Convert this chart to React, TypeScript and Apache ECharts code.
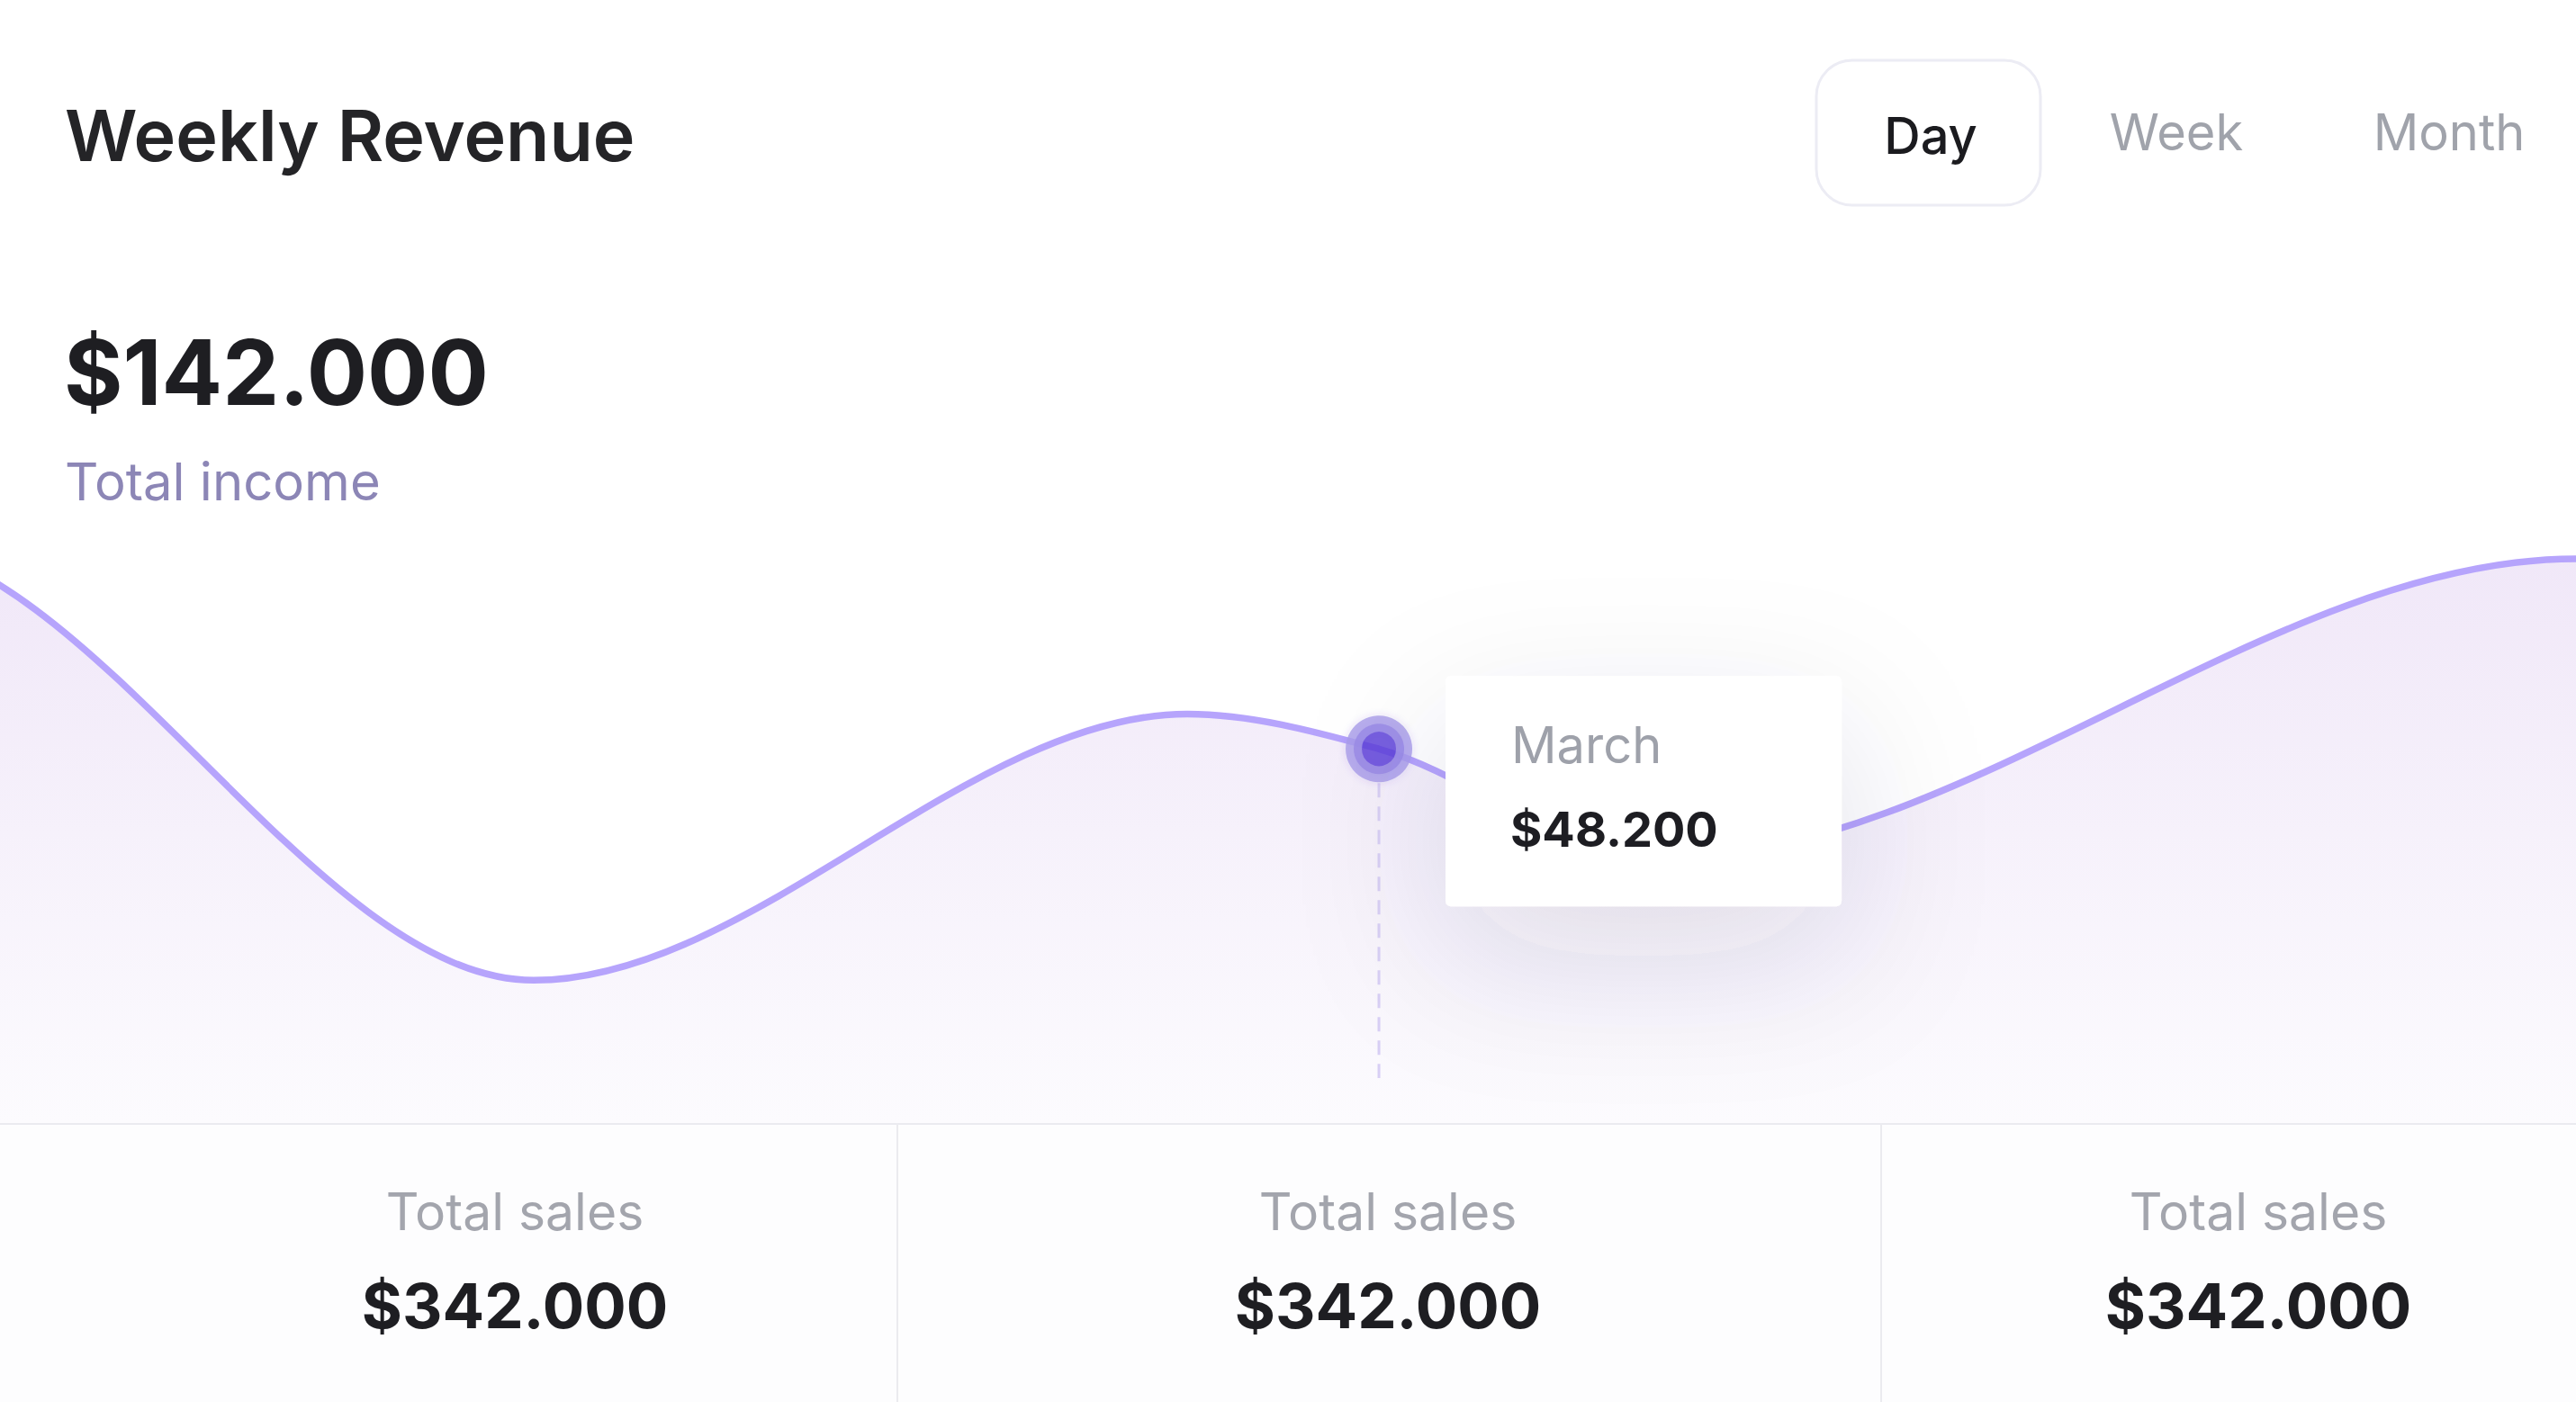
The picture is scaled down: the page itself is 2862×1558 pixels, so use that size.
import React, { useEffect, useRef } from "react";
import * as echarts from "echarts";

// ---- data ----
const title = "Weekly Revenue";
const periods = ["Day", "Week", "Month"];
const activePeriod = "Day";
const totalIncomeValue = 142000;
const totalIncomeLabel = "Total income";

// position along the period (0-100) and revenue in thousands of $ (turning points + highlighted point)
const revenueX = [-5.07, 20.72, 46.09, 53.53, 64.29, 100];
const revenueY = [75.0, 18.4, 52.7, 48.2, 33.9, 72.7];
const highlightIndex = 3;
const highlightLabel = "March";

const statLabels = ["Total sales", "Total sales", "Total sales"];
const statValues = [342000, 342000, 342000];

const FONT = "Inter, 'Noto Sans', sans-serif";

function money(v: number): string {
  const s = Math.round(v).toString();
  return "$" + s.replace(/\B(?=(\d{3})+(?!\d))/g, ".");
}

// monotone cubic (monotone-x) path through pixel points, flat at both ends
function monotonePath(p: number[][]): string {
  const n = p.length;
  const h: number[] = [];
  const s: number[] = [];
  for (let i = 0; i < n - 1; i++) {
    h[i] = p[i + 1][0] - p[i][0];
    s[i] = (p[i + 1][1] - p[i][1]) / h[i];
  }
  const t: number[] = new Array(n).fill(0);
  for (let i = 1; i < n - 1; i++) {
    const pp = (s[i - 1] * h[i] + s[i] * h[i - 1]) / (h[i - 1] + h[i]);
    t[i] =
      (Math.sign(s[i - 1]) + Math.sign(s[i])) *
        Math.min(Math.abs(s[i - 1]), Math.abs(s[i]), 0.5 * Math.abs(pp)) || 0;
  }
  let d = `M${p[0][0]},${p[0][1]}`;
  for (let i = 0; i < n - 1; i++) {
    const dx = h[i] / 3;
    d += ` C${p[i][0] + dx},${p[i][1] + dx * t[i]} ${p[i + 1][0] - dx},${p[i + 1][1] - dx * t[i + 1]} ${p[i + 1][0]},${p[i + 1][1]}`;
  }
  return d;
}

export default function App() {
  const ref = useRef<HTMLDivElement>(null);

  useEffect(() => {
    if (!ref.current) return;
    const chart = echarts.init(ref.current, null, { renderer: "svg" });
    const seriesData = revenueX.map((x, i) => [x, revenueY[i]]);
    const hx = revenueX[highlightIndex];
    const hy = revenueY[highlightIndex];

    chart.setOption({
      animation: false,
      backgroundColor: "#ffffff",
      grid: { left: 0, right: 0, top: 558, bottom: 310 },
      xAxis: {
        type: "value",
        min: 0,
        max: 100,
        axisLine: { show: true, lineStyle: { color: "#ebebf0", width: 4 } },
        axisTick: { show: false },
        axisLabel: { show: false },
        splitLine: { show: false },
      },
      yAxis: {
        type: "value",
        min: 0,
        max: 80,
        show: false,
        splitLine: { show: false },
      },
      series: [
        {
          type: "custom",
          data: seriesData,
          z: 2,
          renderItem: (params: any, api: any) => {
            if (params.dataIndex !== 0) return null;
            const n = seriesData.length;
            const pts: number[][] = [];
            for (let i = 0; i < n; i++) {
              pts.push(api.coord([api.value(0, i), api.value(1, i)]));
            }
            const d = monotonePath(pts);
            const base = api.coord([0, 0])[1];
            const area = `${d} L${pts[n - 1][0]},${base} L${pts[0][0]},${base} Z`;
            return {
              type: "group",
              children: [
                {
                  type: "path",
                  shape: { pathData: area },
                  style: {
                    fill: new echarts.graphic.LinearGradient(0, 0, 0, 1, [
                      { offset: 0, color: "#f0e7f8" },
                      { offset: 1, color: "#fcfbfe" },
                    ]),
                    stroke: null,
                  },
                },
                {
                  type: "path",
                  shape: { pathData: d },
                  style: { fill: null, stroke: "#b6a4fc", lineWidth: 7.5, lineCap: "round" },
                },
              ],
            };
          },
        },
        {
          type: "scatter",
          data: [[hx, hy]],
          symbol: "circle",
          symbolSize: 56,
          z: 6,
          itemStyle: {
            color: "#5b3fd9",
            borderColor: "#a99cea",
            borderWidth: 18,
            shadowBlur: 8,
            shadowColor: "rgba(91,63,217,0.18)",
          },
        },
      ],
    });

    const [px, py] = chart.convertToPixel({ gridIndex: 0 }, [hx, hy]) as number[];
    const [, baseY] = chart.convertToPixel({ gridIndex: 0 }, [hx, 0]) as number[];

    const periodX = [2145, 2418, 2721];
    const statX = [572, 1542, 2509];

    const graphic: any[] = [
      // header
      {
        type: "text",
        style: { text: title, x: 72, y: 150, font: `600 79px ${FONT}`, fill: "#242427", textVerticalAlign: "middle" },
      },
      {
        type: "rect",
        shape: { x: 2018, y: 67, width: 249, height: 161, r: 40 },
        style: { fill: "#ffffff", stroke: "#ececf4", lineWidth: 3 },
      },
      ...periods.map((p, i) => ({
        type: "text",
        style: {
          text: p,
          x: periodX[i],
          y: p === activePeriod ? 151 : 147,
          font: `${p === activePeriod ? 500 : 400} 56px ${FONT}`,
          fill: p === activePeriod ? "#1b1b1f" : "#a0a3ab",
          textAlign: "center",
          textVerticalAlign: "middle",
        },
      })),
      {
        type: "text",
        style: { text: money(totalIncomeValue), x: 71, y: 413, font: `700 100px ${FONT}`, fill: "#1e1e22", textVerticalAlign: "middle" },
      },
      {
        type: "text",
        style: { text: totalIncomeLabel, x: 72, y: 535, font: `400 58px ${FONT}`, fill: "#8c86b6", textVerticalAlign: "middle" },
      },
      // bottom panel
      {
        type: "rect",
        z: 1,
        shape: { x: 0, y: baseY + 2, width: 2862, height: 400 },
        style: { fill: "#fdfdfe" },
      },
      ...[997, 2090].map((x) => ({
        type: "line",
        z: 2,
        shape: { x1: x, y1: baseY + 2, x2: x, y2: 1600 },
        style: { stroke: "#ebebef", lineWidth: 2 },
      })),
      ...statLabels.map((l, i) => ({
        type: "text",
        z: 3,
        style: { text: l, x: statX[i], y: 1346, font: `400 57px ${FONT}`, fill: "#a3a5ad", textAlign: "center", textVerticalAlign: "middle" },
      })),
      ...statValues.map((v, i) => ({
        type: "text",
        z: 3,
        style: { text: money(v), x: statX[i], y: 1451, font: `700 69px ${FONT}`, fill: "#1e1e22", textAlign: "center", textVerticalAlign: "middle" },
      })),
      // highlight guide + tooltip
      {
        type: "line",
        z: 3,
        shape: { x1: px, y1: py + 38, x2: px, y2: baseY - 50 },
        style: { stroke: "#d8cff5", lineWidth: 3, lineDash: [16, 10] },
      },
      {
        type: "rect",
        z: 10,
        shape: { x: px + 74, y: py - 81, width: 440, height: 256, r: 6 },
        style: {
          fill: "#ffffff",
          shadowBlur: 170,
          shadowOffsetY: 55,
          shadowColor: "rgba(45,45,90,0.12)",
        },
      },
      {
        type: "text",
        z: 11,
        style: { text: highlightLabel, x: px + 147, y: py - 4, font: `400 56px ${FONT}`, fill: "#9ea1aa", textVerticalAlign: "middle" },
      },
      {
        type: "text",
        z: 11,
        style: { text: money(hy * 1000), x: px + 146, y: py + 89, font: `700 54px ${FONT}`, fill: "#1d1d22", textVerticalAlign: "middle" },
      },
    ];

    chart.setOption({ graphic });

    return () => chart.dispose();
  }, []);

  return (
    <div
      ref={ref}
      style={{ position: "fixed", left: 0, top: 0, width: "100vw", height: "100vh", background: "#ffffff" }}
    />
  );
}
